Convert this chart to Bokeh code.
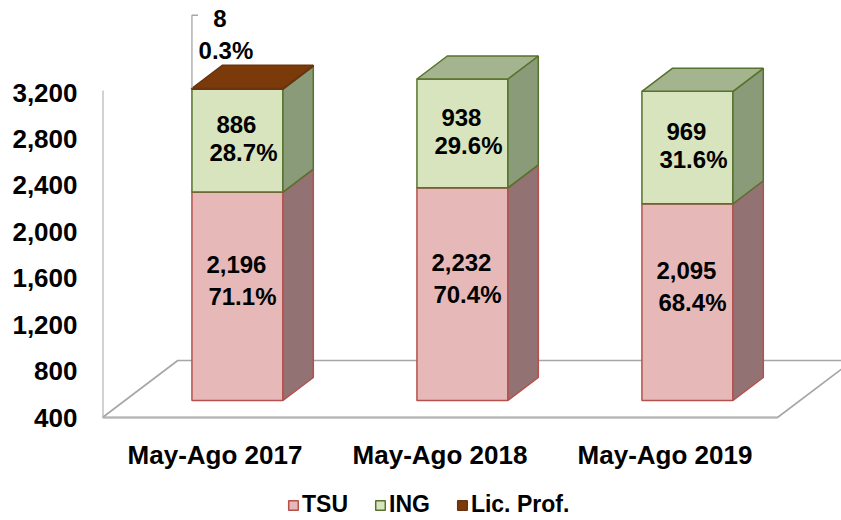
from bokeh.plotting import figure
from bokeh.models import (Range1d, FixedTicker, NumeralTickFormatter, Legend,
                          LegendItem, ColumnDataSource)
from bokeh.embed import file_html
from bokeh.resources import INLINE
from bokeh.core.properties import value

# ---------------- data ----------------
categories = ["May-Ago 2017", "May-Ago 2018", "May-Ago 2019"]
series_names = ["TSU", "ING", "Lic. Prof."]
tsu = [2196, 2232, 2095]
ing = [886, 938, 969]
lic = [8, 0, 0]
tsu_pct = ["71.1%", "70.4%", "68.4%"]
ing_pct = ["28.7%", "29.6%", "31.6%"]
lic_pct = ["0.3%", "", ""]
y_ticks = [400, 800, 1200, 1600, 2000, 2400, 2800, 3200]

# ---------------- styles ----------------
FONT = "Liberation Sans"
front_fill = {"TSU": "#e6b9b8", "ING": "#d7e4bd", "Lic. Prof.": "#7a3a0a"}
side_fill = {"TSU": "#927272", "ING": "#899b79", "Lic. Prof.": "#5a2a06"}
top_fill = {"TSU": "#b89090", "ING": "#a4b48f", "Lic. Prof.": "#7a3a0a"}
edge_col = {"TSU": "#b5504d", "ING": "#56722c", "Lic. Prof.": "#6b3410"}
GRID_COL = "#a6a6a6"

# ---------------- layout (pixels) ----------------
W, H = 841, 520
LEFT = 102
PX_MIN = 417          # frame row of the axis minimum (400)
PX_MAX = 92           # frame row of the axis maximum (3200)
AX_MIN, AX_MAX = y_ticks[0], y_ticks[-1]
U = (AX_MAX - AX_MIN) / (PX_MIN - PX_MAX)   # value units per pixel
STEP = 225            # category width in px
SLOPE = 1.32          # dx per px of depth rise
FRONT_D = 17          # depth of bar front face (px rise)
BAR_D = 23            # bar depth (px rise)
FLOOR_D = 57          # floor depth (px rise)
BAR_W = 91

p = figure(width=W, height=H, output_backend="svg", toolbar_location=None,
           x_range=Range1d(0, W - LEFT),
           y_range=Range1d(AX_MIN - (H - PX_MIN) * U, AX_MAX + PX_MAX * U),
           x_axis_location=None, min_border_left=LEFT, min_border_right=0,
           min_border_top=0, min_border_bottom=0)
p.outline_line_color = None
p.xgrid.visible = False
p.ygrid.visible = False
p.background_fill_color = "white"

ax = p.yaxis[0]
ax.ticker = FixedTicker(ticks=y_ticks)
ax.formatter = NumeralTickFormatter(format="0,0")
ax.axis_line_color = None
ax.major_tick_line_color = None
ax.minor_tick_line_color = None
ax.major_tick_out = 0
ax.major_tick_in = 0
ax.major_label_standoff = 25
ax.major_label_text_font = FONT
ax.major_label_text_font_style = "bold"
ax.major_label_text_font_size = "26px"
ax.major_label_text_color = "#000000"

# ---------------- floor & wall ----------------
n = len(categories)
fdx = FLOOR_D * SLOPE
fdy = FLOOR_D * U
floor_x = [0, n * STEP, n * STEP + fdx, fdx]
floor_y = [AX_MIN, AX_MIN, AX_MIN + fdy, AX_MIN + fdy]
p.patch(floor_x, floor_y, fill_color="white", line_color=GRID_COL, line_width=1.6)
p.line([0, n * STEP], [AX_MIN, AX_MIN], line_color="#b4b4b4", line_width=2.2)
p.line([0, 0], [AX_MIN, AX_MAX + 2 * U], line_color=GRID_COL, line_width=2)

# ---------------- bars ----------------
F = FRONT_D * U
bdx = BAR_D * SLOPE
bdy = BAR_D * U
pos = [STEP * (i + 0.5) for i in range(n)]
cx = [x + FRONT_D * SLOPE for x in pos]

series_vals = {"TSU": tsu, "ING": ing, "Lic. Prof.": lic}
legend_items = []
base = [0] * n
tops = {}
for name in series_names:
    vals = series_vals[name]
    fl, fr, fb, ft = [], [], [], []
    sxs, sys_, txs, tys = [], [], [], []
    for i in range(n):
        b = max(base[i], AX_MIN)
        t = base[i] + vals[i]
        if vals[i] > 0:
            L = cx[i] - BAR_W / 2
            R = cx[i] + BAR_W / 2
            fl.append(L); fr.append(R); fb.append(b + F); ft.append(t + F)
            sxs.append([R, R + bdx, R + bdx, R])
            sys_.append([b + F, b + F + bdy, t + F + bdy, t + F])
            txs.append([L, L + bdx, R + bdx, R])
            tys.append([t + F, t + F + bdy, t + F + bdy, t + F])
        tops.setdefault(name, []).append((b, t))
        base[i] = t
    rf = p.quad(left=fl, right=fr, bottom=fb, top=ft, fill_color=front_fill[name],
                line_color=edge_col[name], line_width=1.5)
    p.patches(sxs, sys_, fill_color=side_fill[name], line_color=edge_col[name],
              line_width=1.5)
    p.patches(txs, tys, fill_color=top_fill[name], line_color=edge_col[name],
              line_width=1.5)
    legend_items.append(LegendItem(label=name, renderers=[rf]))

# ---------------- data labels ----------------
lx, ly, lt = [], [], []
for i in range(n):
    b, t = tops["TSU"][i]
    c = (b + t) / 2 + F + 16 * U
    lx += [cx[i] - 1, cx[i] + 5]
    ly += [c + 16 * U, c - 16 * U]
    lt += [f"{tsu[i]:,}", tsu_pct[i]]
    b, t = tops["ING"][i]
    c = (b + t) / 2 + F + 2 * U
    lx += [cx[i] - 1, cx[i] + 6]
    ly += [c + 14 * U, c - 14 * U]
    lt += [f"{ing[i]:,}", ing_pct[i]]
src = ColumnDataSource(dict(x=lx, y=ly, text=lt))
p.text(x="x", y="y", text="text", source=src, text_font=value(FONT),
       text_font_style="bold", text_font_size="24px", text_align="center",
       text_baseline="middle", text_color="#000000")

# call-out for Lic. Prof.
cx_out, cy_out, ct_out = [], [], []
for i in range(n):
    if lic[i] > 0:
        b, t = tops["Lic. Prof."][i]
        L = cx[i] - BAR_W / 2
        topy = t + F
        p.line([L, L, L + 6], [topy, topy + 73 * U, topy + 73 * U],
               line_color=GRID_COL, line_width=1.3)
        cx_out += [L + 28, L + 34]
        cy_out += [topy + 70 * U, topy + 38 * U]
        ct_out += [f"{lic[i]:,}", lic_pct[i]]
p.text(x=cx_out, y=cy_out, text=ct_out, text_font=value(FONT),
       text_font_style="bold", text_font_size="24px", text_align="center",
       text_baseline="middle", text_color="#000000")

# ---------------- category labels ----------------
p.text(x=pos, y=[AX_MIN - 37 * U] * n, text=categories, text_font=value(FONT),
       text_font_style="bold", text_font_size="26px", text_align="center",
       text_baseline="alphabetic", text_color="#000000")

# ---------------- legend ----------------
legend = Legend(items=legend_items, orientation="horizontal", location=(185, 2),
                padding=0, margin=0, spacing=26, glyph_width=12, glyph_height=12,
                label_height=14, label_standoff=3, label_text_font=FONT,
                label_text_font_style="bold", label_text_font_size="23px",
                label_text_color="#000000", border_line_color=None,
                background_fill_alpha=0)
p.add_layout(legend)

open("out.html", "w").write(file_html(p, INLINE))
